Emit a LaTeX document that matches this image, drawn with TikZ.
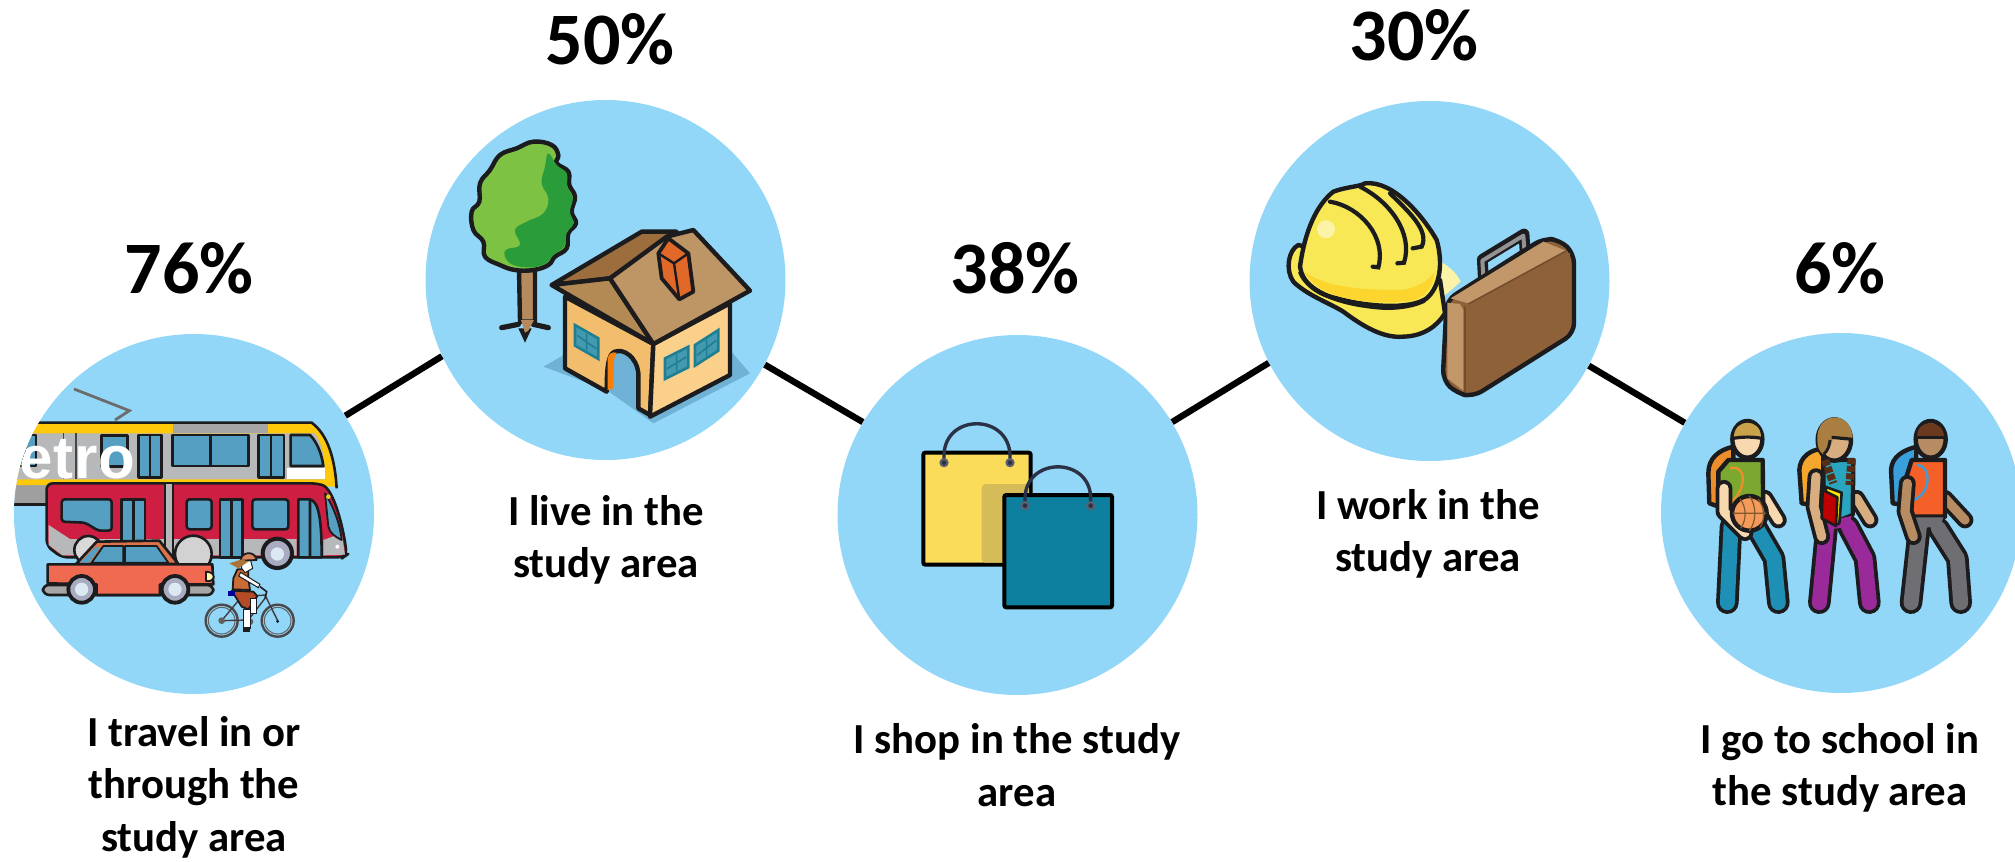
\documentclass[tikz,border=0pt]{standalone}
\usepackage{fontspec}
\setmainfont{Carlito}
\newfontfamily\trafont[LetterSpace=1]{Liberation Sans}
\definecolor{bubble}{HTML}{92D7F7}
\definecolor{ink}{HTML}{1C1C1E}
\definecolor{winblue}{HTML}{55A0C2}
\definecolor{tramgray}{HTML}{B7B8BA}
\definecolor{tramyel}{HTML}{FFC90A}
\definecolor{busred}{HTML}{CE1F42}
\definecolor{carred}{HTML}{F06A52}
\definecolor{wheelg}{HTML}{A9ABC0}
\definecolor{wheell}{HTML}{DCE9F2}
\definecolor{shadowb}{HTML}{6FB2D6}
\definecolor{trunk}{HTML}{B58A5C}
\definecolor{leafl}{HTML}{7DC242}
\definecolor{leafd}{HTML}{2A9D3A}
\definecolor{wallL}{HTML}{F2BE6E}
\definecolor{wallR}{HTML}{FBD08A}
\definecolor{roofD}{HTML}{9C6E3E}
\definecolor{roofM}{HTML}{B48A54}
\definecolor{roofL}{HTML}{BE9564}
\definecolor{chim}{HTML}{E2682A}
\definecolor{winteal}{HTML}{1F7F92}
\definecolor{bagy}{HTML}{FADC5A}
\definecolor{bagys}{HTML}{D6BC58}
\definecolor{bagt}{HTML}{0D80A0}
\definecolor{handle}{HTML}{2B3246}
\definecolor{eyelet}{HTML}{5A6072}
\definecolor{helm}{HTML}{F8E855}
\definecolor{helmd}{HTML}{FCD62E}
\definecolor{helmb}{HTML}{FBF3A8}
\definecolor{caseb}{HTML}{8F6139}
\definecolor{casel}{HTML}{C2976A}
\definecolor{legblue}{HTML}{1E8FB5}
\definecolor{legpur}{HTML}{9A2A9A}
\definecolor{leggray}{HTML}{6E6E73}
\definecolor{shirtg}{HTML}{7BA82E}
\definecolor{shirtt}{HTML}{2AA5C0}
\definecolor{shirto}{HTML}{F46028}
\definecolor{skinl}{HTML}{F8D8AE}
\definecolor{skinm}{HTML}{D8AE80}
\definecolor{skind}{HTML}{B88C62}
\definecolor{packo}{HTML}{EC8E2C}
\definecolor{packy}{HTML}{F4A72C}
\definecolor{packb}{HTML}{3AA0DC}
\definecolor{ball}{HTML}{F49A5A}
\definecolor{hairb}{HTML}{C9A24A}
\definecolor{hairm}{HTML}{A97E40}
\definecolor{haird}{HTML}{6B3A1E}
\newcommand{\limbdraw}[3]{%
  \draw[line width=#2pt+3.8pt,line cap=round,line join=round,ink] #3;
  \draw[line width=#2pt,line cap=round,line join=round,#1] #3;}
\tikzset{
  bubblenode/.style={circle,fill=bubble,draw=none,inner sep=0pt,minimum size=180pt},
  linkline/.style={black,line width=3.2pt},
  pct/.style={font=\fontsize{37}{40}\selectfont\bfseries,inner sep=0pt,anchor=center},
  lab/.style={font=\fontsize{21.4}{26.2}\selectfont\bfseries,align=center,inner sep=0pt,anchor=center},
  zoomat/.style 2 args={shift={(#1,#2)},x=0.1666667pt,y=-0.1666667pt},
  ol/.style={draw=ink,line width=1.3pt,line join=round},
  thin ol/.style={draw=ink,line width=0.9pt,line join=round},
  heavy/.style={draw=ink,line width=2.2pt,line join=round},
}
\begin{document}
\begin{tikzpicture}[x=0.5pt,y=-0.5pt]
\useasboundingbox (0,0) rectangle (2015,862);
% circles
\node[bubblenode] (c1) at (194,514) {};
\node[bubblenode] (c2) at (605.5,280) {};
\node[bubblenode] (c3) at (1017.5,515) {};
\node[bubblenode] (c4) at (1429.5,281) {};
\node[bubblenode] (c5) at (1841,513) {};
% connectors
\draw[linkline] (c1.33) -- (c2.205.6);
\draw[linkline] (c2.-28) -- (c3.149.4);
\draw[linkline] (c3.31) -- (c4.207.8);
\draw[linkline] (c4.-28.6) -- (c5.150.6);

% ---------- icon 1: traffic
\begin{scope}
\clip (c1) circle (180);
\begin{scope}[zoomat={0}{320}]
  \draw[draw=gray!85!black,line width=1.4pt] (222,207) -- (388,272) -- (345,300);
  % lower tram band
  \fill[gray!75] (0,495) rectangle (200,552);
  \draw[ink,line width=1.2pt] (0,553) -- (200,553);
  % tram body
  \fill[tramyel] (0,308) -- (935,308) .. controls (985,345) and (1005,420) .. (1010,500) -- (0,495) -- cycle;
  \fill[tramgray] (0,340) -- (945,340) .. controls (965,370) and (975,410) .. (975,478) -- (0,478) -- cycle;
  \fill[white] (860,445) rectangle (975,476);
  \fill[gray!70] (520,312) rectangle (805,338);
  \draw[ink,line width=1.3pt] (0,308) -- (935,308) .. controls (985,345) and (1005,420) .. (1010,505);
  \draw[gray!55!black,line width=.8pt] (190,340) -- (190,476) (228,340) -- (228,476);
  \draw[ol,fill=winblue] (30,345) rectangle (108,438);
  \draw[ol,fill=winblue] (305,347) rectangle (382,440);
  \draw[ol,fill=winblue] (415,345) rectangle (485,472) (450,345) -- (450,472);
  \draw[ol,fill=winblue] (517,345) rectangle (745,438) (631,345) -- (631,438);
  \draw[ol,fill=winblue] (775,345) rectangle (852,472) (813,345) -- (813,472);
  \draw[ol,fill=winblue] (872,345) -- (930,345) .. controls (950,365) and (965,400) .. (970,438) -- (872,438) -- cycle;
  \node[white,inner sep=0pt,anchor=west,font=\fontsize{30}{30}\selectfont\trafont\bfseries] (tramword) at (58,418) {etro};
  % bus
  \draw[ol,fill=busred,rounded corners=3pt] (140,490) -- (950,490) .. controls (1000,505) and (1030,620) .. (1040,705) -- (1030,712) -- (185,712) -- (140,678) -- cycle;
  \fill[tramgray] (146,615) -- (210,657) -- (890,657) -- (890,706) -- (187,706) -- (146,675) -- cycle;
  \fill[tramgray] (970,660) -- (1025,640) -- (1035,704) -- (970,706) -- cycle;
  \draw[ink,line width=.9pt,fill=tramgray] (495,490) rectangle (520,712);
  \draw[ol,fill=winblue,rounded corners=1.5pt] (185,538) -- (335,538) -- (335,632) -- (295,632) -- (255,608) -- (185,605) -- cycle;
  \draw[ol,fill=winblue] (365,538) rectangle (435,665) (400,538) -- (400,665);
  \draw[ol,fill=winblue,rounded corners=1.5pt] (560,538) rectangle (635,628);
  \draw[ol,fill=winblue] (660,538) rectangle (728,712) (695,538) -- (695,712);
  \draw[ol,fill=winblue,rounded corners=1.5pt] (757,538) rectangle (865,628);
  \draw[ol,fill=winblue] (895,712) -- (895,538) -- (930,538) .. controls (955,545) and (965,590) .. (965,712) -- cycle (930,538) -- (930,712);
  \draw[thin ol,fill=winblue] (975,520) .. controls (1000,560) and (1020,610) .. (1025,660) .. controls (1005,650) and (990,640) .. (985,620) -- cycle;
  \fill[yellow!85!black] (985,530) circle[radius=7];
  \fill[white] (1012,680) circle[radius=6];
  \draw[ol,fill=gray!30] (265,690) circle[radius=42];
  \draw[ol,fill=gray!35] (580,702) circle[radius=55];
  \draw[draw=ink,line width=2pt,fill=wheelg] (832,700) circle[radius=44];
  \fill[wheell] (832,702) circle[radius=20];
  % car
  \draw[ol,fill=carred!60!brown] (228,732) -- (290,665) -- (478,662) -- (535,732) -- cycle;
  \draw[thin ol,fill=winblue] (275,728) -- (310,678) -- (370,678) -- (370,728) -- cycle;
  \draw[thin ol,fill=winblue] (375,678) -- (470,678) -- (505,728) -- (375,728) -- cycle;
  \fill[winblue] (240,728) -- (285,682) -- (300,682) -- (268,728) -- cycle;
  \draw[ol,fill=gray!70,rounded corners=3pt] (128,795) -- (640,795) -- (640,825) -- (130,825) -- cycle;
  \draw[ol,fill=carred] (143,733) -- (637,733) -- (640,793) -- (480,793) -- (480,825) -- (290,825) -- (290,793) -- (143,790) -- cycle;
  \draw[thin ol,fill=yellow!30] (618,755) -- (630,757) .. controls (645,762) and (645,778) .. (630,783) -- (618,783) -- cycle;
  \draw[draw=ink,line width=1.9pt,fill=wheelg] (245,808) circle[radius=40];
  \fill[wheell] (245,808) circle[radius=20];
  \draw[draw=ink,line width=1.9pt,fill=wheelg] (525,808) circle[radius=40];
  \fill[wheell] (525,808) circle[radius=20];
  % cyclist
  \foreach \wx in {665,833}{
    \draw[draw=ink!80,line width=1.2pt] (\wx,902) circle[radius=48];
    \draw[draw=gray!70!ink,line width=.5pt] (\wx,902) circle[radius=40];
  }
  \draw[ink!85,line width=.7pt] (665,902) -- (725,830) -- (795,825) -- (833,902) (725,830) -- (745,900) -- (795,835) (665,902) -- (745,900);
  \draw[ink,line width=.8pt] (780,800) -- (800,815) -- (795,835);
  \fill[ink!70] (665,902) circle[radius=10];
  \fill[ink!80!blue] (833,904) circle[radius=5];
  \fill[ink!70] (750,905) circle[radius=10];
  \draw[thin ol,fill=brown!70!red!85!black] (695,812) -- (760,815) -- (772,828) -- (745,868) -- (725,860) -- cycle;
  \draw[draw=ink,line width=.5pt,fill=white] (730,868) rectangle (750,925);
  \draw[draw=ink,line width=.5pt,fill=white] (752,835) rectangle (770,880);
  \fill[ink] (728,922) rectangle (750,935);
  \draw[thin ol,fill=brown!85!red] (712,748) -- (745,748) -- (745,775) -- (750,810) -- (698,808) -- (700,775) -- cycle;
  \draw[draw=ink,line width=.5pt,fill=white] (722,757) -- (780,793) -- (775,803) -- (716,768) -- cycle;
  \draw[draw=ink,line width=.5pt,fill=white] (725,722) -- (752,722) -- (758,745) -- (735,758) -- (725,745) -- cycle;
  \draw[thin ol,fill=brown!80!red!80!white] (722,722) .. controls (722,695) and (765,690) .. (770,720) -- cycle;
  \fill[brown!90!black] (688,730) -- (725,718) -- (745,725) -- (715,745) -- cycle;
  \fill[blue!60!black] (683,812) rectangle (705,828);
\end{scope}
\end{scope}

% ---------- icon 2: tree and house
\begin{scope}[zoomat={420}{90}]
  \fill[shadowb] (370,830) -- (440,790) -- (930,780) -- (990,850) -- (700,1000) -- (560,900) -- cycle;
  % trunk and roots
  \draw[heavy,fill=trunk] (297,540) -- (300,695) -- (345,695) -- (345,540) -- cycle;
  \draw[draw=ink,line width=2.6pt,line cap=round] (245,713) -- (295,703) (385,713) -- (340,703);
  \fill[ink] (295,715) -- (335,715) -- (315,758) -- cycle;
  \fill[trunk] (303,690) -- (342,690) -- (325,722) -- (315,728) -- cycle;
  % crown
  \draw[heavy,fill=leafl] plot[smooth cycle,tension=.7] coordinates {
    (340,155) (395,165) (415,195) (410,220) (445,245) (448,285) (465,320) (455,365) (468,400)
    (445,430) (440,475) (405,500) (385,525) (340,540) (285,540) (240,525) (195,500) (190,455) (160,420)
    (155,365) (178,335) (180,280) (210,240) (240,195) (290,175)};
  \fill[leafd] plot[smooth cycle,tension=.7] coordinates {
    (385,190) (410,225) (440,250) (442,290) (458,325) (450,365) (460,400) (440,430) (432,470) (400,495) (378,520) (335,532)
    (280,525) (255,500) (260,478) (300,465) (285,420) (320,395) (370,370) (385,325) (365,280) (375,230)};
  % walls
  \draw[heavy,fill=wallL] (435,620) -- (700,762) -- (690,975) -- (655,955) -- (655,850) .. controls (650,800) and (610,775) .. (585,785) .. controls (565,790) and (560,830) .. (560,905) -- (435,835) -- cycle;
  \draw[heavy,fill=wallR] (700,762) -- (930,640) -- (930,855) -- (690,980) -- cycle;
  \fill[orange!85!brown] (563,805) .. controls (567,790) and (575,785) .. (590,788) .. controls (578,800) and (582,850) .. (580,895) -- (563,900) -- cycle;
  % windows
  \foreach \pa/\pb/\pc/\pd in {465/705/535/745,735/805/805/770,825/765/895/720}{
    \pgfmathsetmacro{\ph}{62}
    \draw[draw=winteal,line width=1.3pt,fill=winteal!70!bubble] (\pa,\pb) -- (\pc,\pd) -- (\pc,\pd+\ph) -- (\pa,\pb+\ph) -- cycle;
    \draw[draw=winteal,line width=.8pt] ({(\pa+\pc)/2},{(\pb+\pd)/2+6}) -- ({(\pa+\pc)/2},{(\pb+\pd)/2+\ph-6})
       ({\pa+6},{\pb+\ph/2}) -- ({\pc-6},{\pd+\ph/2});
  }
  % roof
  \draw[heavy,fill=roofD] (395,585) -- (665,425) -- (770,425) -- (570,565) -- cycle;
  \draw[heavy,fill=roofM] (395,585) -- (570,565) -- (700,762) -- cycle;
  \draw[heavy,fill=roofL] (570,565) -- (740,440) -- (820,420) -- (990,602) -- (700,762) -- cycle;
  % chimney
  \draw[heavy,line width=1.9pt,fill=chim] (715,490) -- (745,445) -- (805,490) -- (820,605) -- (778,628) -- (725,565) -- cycle;
  \draw[draw=ink,line width=1.2pt] (762,520) -- (778,628) (762,520) -- (805,490) (715,490) -- (762,520);
\end{scope}

% ---------- icon 3: bags
\begin{scope}[zoomat={830}{340}]
  \draw[draw=black,line width=2pt,fill=bagy,rounded corners=1pt] (280,338) rectangle (602,674);
  \fill[bagys,rounded corners=2pt] (455,432) -- (597,432) -- (597,668) -- (455,668) -- cycle;
  \draw[draw=handle,line width=1.7pt] (342,368) -- (342,345) .. controls (345,220) and (535,220) .. (540,345) -- (540,368);
  \fill[eyelet] (342,368) circle[radius=14] (540,368) circle[radius=14];
  \fill[handle] (342,368) circle[radius=7] (540,368) circle[radius=7];
  \draw[draw=black,line width=2pt,fill=bagt,rounded corners=1pt] (523,465) rectangle (846,802);
  \draw[draw=handle,line width=1.7pt] (585,497) -- (585,472) .. controls (590,350) and (778,350) .. (782,472) -- (782,497);
  \fill[eyelet] (585,497) circle[radius=14] (782,497) circle[radius=14];
  \fill[handle] (585,497) circle[radius=7] (782,497) circle[radius=7];
\end{scope}

% ---------- icon 4: helmet and briefcase
\begin{scope}[zoomat={1250}{130}]
  \fill[helmb] (570,395) .. controls (600,410) and (620,430) .. (632,455) -- (580,500) -- cycle;
  \draw[heavy,fill=helm] (145,345) .. controls (115,360) and (105,420) .. (130,455) .. controls (170,495) and (240,520) .. (280,545) .. controls (340,590) and (400,625) .. (460,620) .. controls (520,618) and (560,590) .. (585,550) -- (570,450) -- cycle;
  \draw[heavy,fill=helm] (150,410) .. controls (165,300) and (200,225) .. (250,185) .. controls (290,170) and (330,170) .. (345,160) .. controls (430,150) and (520,260) .. (560,330) .. controls (580,400) and (570,470) .. (530,505) .. controls (480,540) and (350,530) .. (260,505) .. controls (190,490) and (155,450) .. (150,410) -- cycle;
  \fill[helmd] (165,425) .. controls (220,470) and (330,480) .. (450,480) .. controls (500,475) and (540,450) .. (553,425) .. controls (550,470) and (530,495) .. (495,510) .. controls (400,525) and (320,515) .. (260,497) .. controls (205,480) and (175,450) .. (165,425) -- cycle;
  \draw[ink,line width=2.2pt] (150,425) .. controls (175,490) and (280,525) .. (400,533) .. controls (450,535) and (500,525) .. (525,510);
  \fill[helmb] (228,298) circle[radius=27];
  \draw[ink,line width=2.1pt,line cap=round] (240,215) .. controls (330,230) and (410,320) .. (385,412) -- (368,410);
  \draw[ink,line width=2.1pt,line cap=round] (330,170) .. controls (420,215) and (490,310) .. (462,398) -- (442,400);
  \draw[ink,line width=2.1pt,line cap=round] (420,190) .. controls (470,240) and (540,300) .. (515,350) -- (488,355);
  % briefcase
  \draw[draw=ink,line width=5.4pt,line join=round,line cap=round] (700,445) -- (697,388) -- (822,312) -- (826,378);
  \draw[draw=gray!85!white,line width=2pt,line join=round] (700,440) -- (697,392) -- (820,317) -- (824,370);
  \draw[heavy,fill=caseb,rounded corners=5pt] (590,510) -- (880,325) -- (930,330) -- (972,370) -- (972,610) -- (670,800) -- (620,790) -- (578,750) -- cycle;
  \fill[casel] (592,518) -- (630,522) -- (640,540) -- (640,782) -- (592,745) -- cycle;
  \fill[casel] (602,505) -- (880,335) -- (948,362) -- (655,520) -- cycle;
  \fill[caseb] (662,522) -- (960,368) -- (958,602) -- (668,785) -- cycle;
  \draw[caseb!80!black,line width=.8pt] (645,530) -- (645,785) (655,522) -- (950,362);
\end{scope}

% ---------- icon 5: students
\begin{scope}[zoomat={1650}{380}]
  % student 1
  \draw[heavy,fill=packo] (250,200) .. controls (205,210) and (175,235) .. (175,280) -- (178,370) -- (250,395) -- cycle;
  \limbdraw{legblue}{7.5}{(243,440) -- (232,668)}
  \limbdraw{legblue}{7.5}{(320,445) -- (372,535) -- (385,668)}
  \limbdraw{skinl}{4.6}{(345,355) -- (385,420)}
  \draw[heavy,fill=shirtg] (235,240) -- (325,240) -- (338,240) -- (340,420) -- (235,420) -- (205,330) -- (205,275) -- cycle;
  \draw[draw=packo,line width=1.2pt] (240,265) .. controls (285,250) and (295,320) .. (245,365);
  \limbdraw{skinl}{4.6}{(222,325) -- (222,395) -- (285,458)}
  \draw[heavy,fill=ball] (298,400) circle[radius=52];
  \draw[brown!70!black,line width=.6pt] (248,400) -- (348,400) (298,348) .. controls (320,375) and (320,425) .. (298,452) (270,357) .. controls (290,380) and (290,420) .. (272,445) (325,357) .. controls (345,385) and (345,420) .. (330,442);
  \draw[heavy,fill=skinl] (292,178) ellipse[x radius=45,y radius=55];
  \fill[hairb] (252,172) .. controls (252,115) and (332,115) .. (332,172) -- cycle;
  \draw[ink,line width=1.6pt] (250,175) .. controls (280,170) and (305,170) .. (335,175);
  % student 2
  \draw[heavy,fill=packy] (520,205) .. controls (480,210) and (450,230) .. (448,270) -- (455,370) -- (520,380) -- cycle;
  \limbdraw{legpur}{7.5}{(530,440) -- (508,668)}
  \limbdraw{legpur}{7.5}{(595,440) -- (645,535) -- (658,668)}
  \limbdraw{skinm}{4.6}{(620,355) -- (660,420)}
  \draw[heavy,fill=shirtt] (520,240) -- (610,240) -- (608,405) -- (520,440) -- cycle;
  \fill[legpur] (525,425) -- (604,408) -- (600,440) -- (525,450) -- cycle;
  \limbdraw{skinm}{4.6}{(498,290) -- (492,380) -- (515,470)}
  \draw[ol,fill=yellow!90!orange] (525,320) -- (575,338) -- (568,430) -- (555,435) -- cycle;
  \draw[ol,fill=red!75!black] (518,330) -- (562,352) -- (558,438) -- (515,415) -- cycle;
  \draw[heavy,fill=skinm] (553,180) ellipse[x radius=50,y radius=62];
  \fill[hairm] (502,180) .. controls (497,92) and (608,88) .. (608,178) -- (550,170) .. controls (545,190) and (540,215) .. (520,223) .. controls (507,215) and (502,200) .. (502,180) -- cycle;
  \draw[ink,line width=1.6pt] (545,172) -- (608,178);
  \draw[ink,line width=1.4pt] (540,180) .. controls (538,195) and (535,210) .. (522,222);
  \draw[line width=4pt,dash pattern=on 3pt off .8pt,haird!80!black] (525,240) -- (550,310);
  \draw[line width=4pt,dash pattern=on 3pt off .8pt,haird!80!black] (605,235) -- (598,315);
  % student 3
  \draw[heavy,fill=packb] (800,200) .. controls (760,210) and (725,230) .. (723,270) -- (728,370) -- (790,380) -- cycle;
  \limbdraw{leggray}{7.5}{(808,440) -- (783,668)}
  \limbdraw{leggray}{7.5}{(865,445) -- (922,535) -- (932,668)}
  \limbdraw{skind}{4.6}{(885,355) -- (945,420)}
  \draw[heavy,fill=shirto] (785,240) -- (885,240) -- (885,410) -- (790,410) -- (760,320) -- cycle;
  \draw[draw=packb,line width=1.2pt] (800,255) .. controls (845,255) and (845,340) .. (790,360);
  \fill[leggray] (795,412) -- (880,412) -- (870,440) -- (795,445) -- cycle;
  \limbdraw{skind}{4.6}{(772,310) -- (765,395) -- (790,470)}
  \draw[heavy,fill=skind] (842,178) ellipse[x radius=45,y radius=55];
  \fill[haird] (802,172) .. controls (797,115) and (882,115) .. (882,172) -- cycle;
  \draw[ink,line width=1.6pt] (800,172) -- (885,172);
\end{scope}

% ---------- texts
\node[pct] (p1) at (189,268) {76\%};
\node[pct] (p2) at (610,39) {50\%};
\node[pct] (p3) at (1015,268) {38\%};
\node[pct] (p4) at (1414,35) {30\%};
\node[pct] (p5) at (1840,268) {6\%};
\node[lab] (t1) at (194,787) {I travel in or\\through the\\study area};
\node[lab] (t2) at (606,540) {I live in the\\study area};
\node[lab] (t3) at (1017,765) {I shop in the study\\area};
\node[lab] (t4) at (1428,534) {I work in the\\study area};
\node[lab] (t5) at (1840,768) {I go to school in\\the study area};
\end{tikzpicture}
\end{document}
